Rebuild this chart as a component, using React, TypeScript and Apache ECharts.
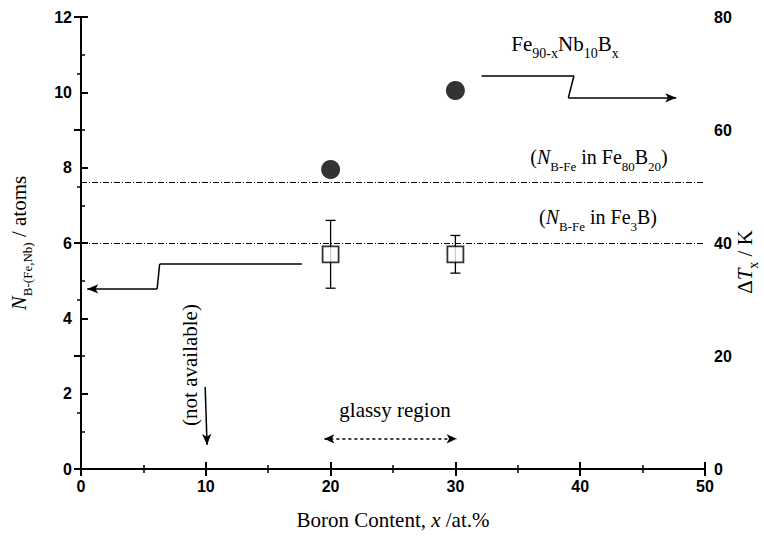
import React, { useEffect, useRef } from "react";
import * as echarts from "echarts";

// ---- data ----
const boronContent = [20, 30];
const deltaTx = [53, 67]; // right axis, K
const nBFe = [5.7, 5.7]; // left axis, atoms
const nLow = [4.8, 5.2];
const nHigh = [6.6, 6.2];
const refLevels = [7.6, 6.0]; // Fe80B20, Fe3B
const xTicks = [0, 10, 20, 30, 40, 50];
const leftTicks = [0, 2, 4, 6, 8, 10, 12];
const rightTicks = [0, 20, 40, 60, 80];

// annotation arrows (data coordinates)
const leftArrow = [
  [17.7, 5.44],
  [6.3, 5.44],
  [6.1, 4.78],
  [0.5, 4.78],
];
const rightArrow = [
  [32.1, 69.6],
  [39.5, 69.6],
  [39.05, 65.7],
  [47.7, 65.7],
];
const glassyArrow = [
  [19.5, 0.8],
  [30.1, 0.8],
];
const naArrow = [
  [9.95, 2.18],
  [10.1, 0.64],
];

const SERIF = "'Liberation Serif', 'DejaVu Serif', serif";
const SANS = "'Liberation Sans', Arial, sans-serif";

function polySegs(pts: number[][], arrowStart = false, arrowEnd = true) {
  const segs: any[] = [];
  for (let i = 0; i < pts.length - 1; i++) {
    segs.push([
      { coord: pts[i], symbol: arrowStart && i === 0 ? "arrow" : "none" },
      { coord: pts[i + 1], symbol: arrowEnd && i === pts.length - 2 ? "arrow" : "none" },
    ]);
  }
  return segs;
}

const richAxis = (size: number, sub: number, pad: number) => ({
  n: { fontFamily: SERIF, fontSize: size, color: "#000" },
  i: { fontFamily: SERIF, fontSize: size, fontStyle: "italic", color: "#000" },
  sub: { fontFamily: SERIF, fontSize: sub, color: "#000", padding: [pad, 0, 0, 0] },
});

const richG = (size: number, sub: number, pad: number) => ({
  n: { fontFamily: SERIF, fontSize: size, fill: "#000" },
  i: { fontFamily: SERIF, fontSize: size, fontStyle: "italic", fill: "#000" },
  sub: { fontFamily: SERIF, fontSize: sub, fill: "#000", padding: [pad, 0, 0, 0] },
});

export default function App() {
  const ref = useRef<HTMLDivElement>(null);
  useEffect(() => {
    if (!ref.current) return;
    const chart = echarts.init(ref.current, null, { renderer: "svg" });
    const axisLine = { show: true, lineStyle: { color: "#000", width: 2 } };
    const axisLabel = { fontFamily: SANS, fontWeight: "bold", fontSize: 16, color: "#000", margin: 9 };
    const tick = { inside: true, length: 7, lineStyle: { width: 2, color: "#000" } };
    const minor = { show: true, splitNumber: 2, length: 4, lineStyle: { width: 1.5, color: "#000" } };
    const arrowLine = { color: "#000", width: 1.5, type: "solid" };
    chart.setOption({
      animation: false,
      backgroundColor: "#fff",
      grid: { left: 81, right: 59, top: 17, bottom: 69, outerBoundsMode: "none" },
      xAxis: [
        {
          type: "value",
          min: xTicks[0],
          max: xTicks[xTicks.length - 1],
          interval: 10,
          axisLine,
          axisTick: tick,
          minorTick: minor,
          axisLabel,
          splitLine: { show: false },
          name: "{n|Boron Content, }{i|x}{n| /at.%}",
          nameLocation: "middle",
          nameGap: 40,
          nameTextStyle: { rich: richAxis(21, 14, 0) },
        },
        {
          type: "value",
          position: "top",
          min: 0,
          max: 50,
          interval: 10,
          axisLine,
          axisTick: tick,
          minorTick: minor,
          axisLabel: { show: false },
          splitLine: { show: false },
        },
      ],
      yAxis: [
        {
          type: "value",
          min: leftTicks[0],
          max: leftTicks[leftTicks.length - 1],
          interval: 2,
          axisLine,
          axisTick: tick,
          minorTick: minor,
          axisLabel,
          splitLine: { show: false },
          name: "{i|N}{sub|B-(Fe,Nb)}{n| / atoms}",
          nameLocation: "middle",
          nameRotate: 90,
          nameGap: 47,
          nameTextStyle: { rich: richAxis(21, 13, 18) },
        },
        {
          type: "value",
          position: "right",
          min: rightTicks[0],
          max: rightTicks[rightTicks.length - 1],
          interval: 20,
          axisLine,
          axisTick: tick,
          minorTick: minor,
          axisLabel,
          splitLine: { show: false },
        },
      ],
      series: [
        {
          type: "line",
          xAxisIndex: 0,
          yAxisIndex: 0,
          data: [],
          silent: true,
          markLine: {
            silent: true,
            symbol: ["none", "none"],
            label: { show: false },
            lineStyle: { color: "#000", width: 1, type: [6, 2, 1, 2] },
            data: refLevels.map((v) => ({ yAxis: v })),
          },
        },
        {
          type: "line",
          xAxisIndex: 0,
          yAxisIndex: 0,
          data: [],
          silent: true,
          markLine: {
            silent: true,
            symbolSize: [7, 11],
            label: { show: false },
            lineStyle: arrowLine,
            data: [...polySegs(leftArrow), ...polySegs(naArrow)],
          },
        },
        {
          type: "line",
          xAxisIndex: 0,
          yAxisIndex: 0,
          data: [],
          silent: true,
          markLine: {
            silent: true,
            symbolSize: [7, 10],
            label: { show: false },
            lineStyle: { color: "#000", width: 1.5, type: [3, 3] },
            data: polySegs(glassyArrow, true, true),
          },
        },
        {
          type: "line",
          xAxisIndex: 0,
          yAxisIndex: 1,
          data: [],
          silent: true,
          markLine: {
            silent: true,
            symbolSize: [7, 11],
            label: { show: false },
            lineStyle: arrowLine,
            data: polySegs(rightArrow),
          },
        },
        {
          type: "custom",
          xAxisIndex: 0,
          yAxisIndex: 0,
          silent: true,
          z: 3,
          data: boronContent.map((x, i) => [x, nLow[i], nHigh[i]]),
          encode: { x: 0, y: [1, 2] },
          renderItem: (params: any, api: any) => {
            const x = api.value(0);
            const p1 = api.coord([x, api.value(1)]);
            const p2 = api.coord([x, api.value(2)]);
            const w = 5;
            const st = { stroke: "#000", lineWidth: 1.3 };
            return {
              type: "group",
              children: [
                { type: "line", shape: { x1: p1[0], y1: p1[1], x2: p2[0], y2: p2[1] }, style: st },
                { type: "line", shape: { x1: p1[0] - w, y1: p1[1], x2: p1[0] + w, y2: p1[1] }, style: st },
                { type: "line", shape: { x1: p2[0] - w, y1: p2[1], x2: p2[0] + w, y2: p2[1] }, style: st },
              ],
            };
          },
        },
        {
          type: "scatter",
          xAxisIndex: 0,
          yAxisIndex: 0,
          z: 5,
          symbol: "rect",
          symbolSize: 16,
          itemStyle: { color: "#fff", borderColor: "#000", borderWidth: 1.8 },
          data: boronContent.map((x, i) => [x, nBFe[i]]),
        },
        {
          type: "scatter",
          xAxisIndex: 0,
          yAxisIndex: 1,
          z: 5,
          symbol: "circle",
          symbolSize: 19,
          itemStyle: { color: "#000" },
          data: boronContent.map((x, i) => [x, deltaTx[i]]),
        },
      ],
      graphic: [
        {
          type: "text",
          x: 745,
          y: 262,
          rotation: Math.PI / 2,
          style: {
            text: "{n|Δ}{i|T}{sub|x}{n| / K}",
            rich: richG(21, 14, 16),
            align: "center",
            verticalAlign: "middle",
          },
        },
        {
          type: "text",
          x: 565,
          y: 44,
          style: {
            text: "{n|Fe}{sub|90-x}{n|Nb}{sub|10}{n|B}{sub|x}",
            rich: richG(21, 14, 18),
            align: "center",
            verticalAlign: "middle",
          },
        },
        {
          type: "text",
          x: 599,
          y: 157,
          style: {
            text: "{n|(}{i|N}{sub|B-Fe}{n| in Fe}{sub|80}{n|B}{sub|20}{n|)}",
            rich: richG(20, 13, 18),
            align: "center",
            verticalAlign: "middle",
          },
        },
        {
          type: "text",
          x: 598,
          y: 217,
          style: {
            text: "{n|(}{i|N}{sub|B-Fe}{n| in Fe}{sub|3}{n|B)}",
            rich: richG(20, 13, 18),
            align: "center",
            verticalAlign: "middle",
          },
        },
        {
          type: "text",
          x: 395,
          y: 410,
          style: {
            text: "glassy region",
            fontFamily: SERIF,
            fontSize: 21,
            fill: "#000",
            align: "center",
            verticalAlign: "middle",
          },
        },
        {
          type: "text",
          x: 190,
          y: 365,
          rotation: Math.PI / 2,
          style: {
            text: "(not available)",
            fontFamily: SERIF,
            fontSize: 21,
            fill: "#000",
            align: "center",
            verticalAlign: "middle",
          },
        },
      ],
    });
    return () => chart.dispose();
  }, []);
  return <div ref={ref} style={{ position: "fixed", left: 0, top: 0, width: 764, height: 538, background: "#fff" }} />;
}
